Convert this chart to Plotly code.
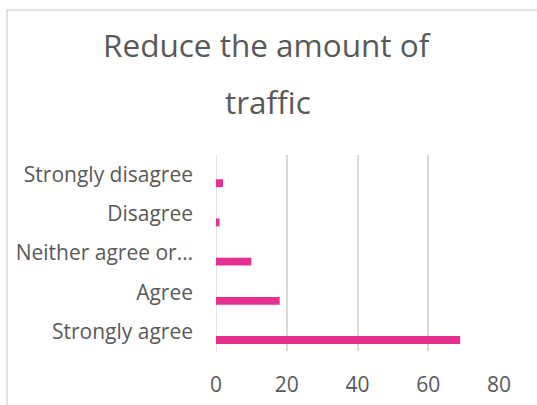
import plotly.graph_objects as go

categories = ["Strongly agree", "Agree", "Neither agree or…", "Disagree", "Strongly disagree"]
values = [69, 18, 10, 1, 2]
x_ticks = [0, 20, 40, 60, 80]
title_lines = ["Reduce the amount of", "traffic"]

W, H = 537, 405
L, R, T, B = 216, 38, 155, 54
pw, ph = W - L - R, H - T - B


def px_x(p):
    return (p - L) / pw


def px_y(p):
    return (H - B - p) / ph


fig = go.Figure(go.Bar(
    y=categories, x=values, orientation="h",
    marker=dict(color="#E6308F", line=dict(width=0)),
    offset=-0.32, width=0.2,
))

annotations = [
    dict(text=title_lines[0], xref="paper", yref="paper", x=px_x(267), y=px_y(45),
         xanchor="center", yanchor="middle", showarrow=False,
         font=dict(family="Open Sans", size=31.5, color="#595959")),
    dict(text=title_lines[1], xref="paper", yref="paper", x=px_x(268), y=px_y(101),
         xanchor="center", yanchor="middle", showarrow=False,
         font=dict(family="Open Sans", size=31.5, color="#595959")),
]

fig.update_layout(
    width=W, height=H,
    margin=dict(l=L, r=R, t=T, b=B),
    paper_bgcolor="white", plot_bgcolor="white",
    font=dict(family="Open Sans", color="#595959", size=21),
    showlegend=False,
    annotations=annotations,
    xaxis=dict(range=[0, 80], tickvals=x_ticks, showgrid=True, gridcolor="#D9D9D9",
               gridwidth=1.5, zeroline=False, showline=False, automargin=False,
               ticks="", ticklabelstandoff=19, fixedrange=True),
    yaxis=dict(categoryorder="array", categoryarray=categories, showgrid=False,
               zeroline=False, showline=False, ticks="", ticklabelstandoff=22,
               automargin=False, fixedrange=True),
    shapes=[
        dict(type="rect", xref="paper", yref="paper",
             x0=px_x(7), x1=px_x(W + 20),
             y0=px_y(H + 20), y1=px_y(10),
             line=dict(color="#D9D9D9", width=1.5), fillcolor="rgba(0,0,0,0)", layer="below"),
        dict(type="line", xref="x", yref="paper", x0=0, x1=0, y0=0, y1=1,
             line=dict(color="#D9D9D9", width=1.5), layer="below"),
    ],
)

fig.write_html("out.html", config={"displayModeBar": False},
               post_script="document.body.style.margin='0';document.body.style.overflow='hidden';")
